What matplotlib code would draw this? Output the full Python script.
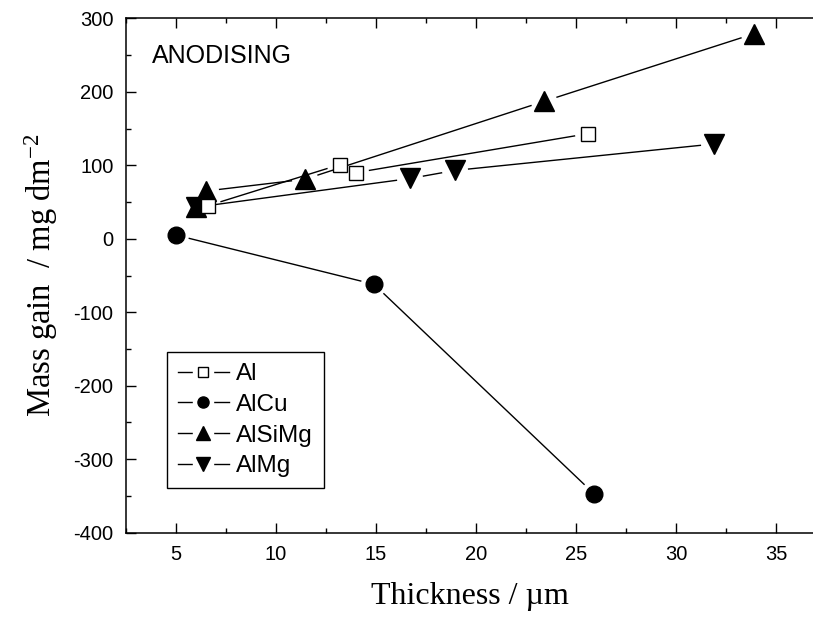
import numpy as np
import matplotlib
matplotlib.use("Agg")
import matplotlib.pyplot as plt
from matplotlib.collections import LineCollection
from matplotlib.lines import Line2D
from matplotlib.legend_handler import HandlerTuple
from matplotlib.ticker import MultipleLocator

plt.rcParams['font.family'] = ['Liberation Sans', 'DejaVu Sans']
plt.rcParams['axes.unicode_minus'] = False
plt.rcParams['mathtext.fontset'] = 'custom'
plt.rcParams['mathtext.rm'] = 'Liberation Serif'
plt.rcParams['mathtext.it'] = 'Liberation Serif:italic'
plt.rcParams['mathtext.default'] = 'regular'

# ---- data ----
al_x = [6.6, 13.2, 14.0, 25.6]
al_y = [45, 101, 90, 143]
alcu_x = [5.0, 14.9, 25.9]
alcu_y = [5, -62, -347]
alsimg_x = [6.0, 6.5, 11.45, 23.4, 33.9]
alsimg_y = [43, 65, 81, 187, 279]
almg_x = [6.0, 16.7, 18.95, 31.9]
almg_y = [43, 82, 93, 129]
labels = ['Al', 'AlCu', 'AlSiMg', 'AlMg']

x_ticks = [5, 10, 15, 20, 25, 30, 35]
y_ticks = [-400, -300, -200, -100, 0, 100, 200, 300]

W, H = 813, 618
fig = plt.figure(figsize=(W / 100, H / 100), dpi=100)
L, R, B, T = 126, 813, 532.7, 18.3
ax = fig.add_axes([L / W, (H - B) / H, (R - L) / W, (B - T) / H])
ax.set_xlim(2.5, 2.5 + (R - L) / 20.0)
ax.set_ylim(-400, 300)

ax.set_xticks(x_ticks)
ax.set_yticks(y_ticks)
ax.xaxis.set_minor_locator(MultipleLocator(2.5))
ax.yaxis.set_minor_locator(MultipleLocator(50))
ax.tick_params(which='both', direction='in', top=True, right=False,
               width=1.0, labelsize=14.5, pad=9)
ax.tick_params(which='major', length=7.2)
ax.tick_params(which='minor', length=3.6)
ax.spines['right'].set_visible(False)
for s in ('left', 'bottom', 'top'):
    ax.spines[s].set_linewidth(1.1)


def gapped(x, y, gap_px, z):
    pts = ax.transData.transform(np.column_stack([x, y]))
    inv = ax.transData.inverted()
    segs = []
    for p0, p1 in zip(pts[:-1], pts[1:]):
        d = p1 - p0
        ln = np.hypot(*d)
        if ln <= 2 * gap_px:
            continue
        u = d / ln
        segs.append(inv.transform([p0 + u * gap_px, p1 - u * gap_px]))
    ax.add_collection(LineCollection(segs, colors='k', linewidths=1.0, zorder=z))


GAP = 13
series = [
    (al_x, al_y, 's', 10, 'white', 6),
    (alcu_x, alcu_y, 'o', 12, 'black', 4),
    (alsimg_x, alsimg_y, '^', 14, 'black', 4),
    (almg_x, almg_y, 'v', 14, 'black', 4),
]
for x, y, m, ms, fc, z in series:
    gapped(x, y, GAP, 2)
    ax.plot(x, y, linestyle='none', marker=m, markersize=ms,
            markerfacecolor=fc, markeredgecolor='black', markeredgewidth=1.0,
            zorder=z)

# legend: line with gap around marker
leg_ms = {'s': 7, 'o': 8, '^': 10.5, 'v': 10.5}
handles = []
for (x, y, m, ms, fc, z) in series:
    line = Line2D([], [], color='k', lw=1.0)
    halo = Line2D([], [], linestyle='none', marker='s', markersize=15,
                  markerfacecolor='white', markeredgecolor='white')
    mk = Line2D([], [], linestyle='none', marker=m, markersize=leg_ms[m],
                markerfacecolor=fc, markeredgecolor='black', markeredgewidth=1.0)
    handles.append((line, halo, mk))
leg = ax.legend(handles, labels, handler_map={tuple: HandlerTuple(ndivide=1)},
                loc='lower left', bbox_to_anchor=((166.7 - L) / (R - L), (B - 488.3) / (B - T)),
                borderaxespad=0, fontsize=17.5, frameon=True, fancybox=False,
                edgecolor='black', handlelength=2.1, handletextpad=0.3,
                labelspacing=0.36, borderpad=0.45, framealpha=1)
leg.get_frame().set_linewidth(1.0)

ax.text((152 - L) / (R - L), 1 - (56 - T) / (B - T), 'ANODISING',
        transform=ax.transAxes, fontsize=18, ha='left', va='center')

ax.set_xlabel('Thickness / µm', family='Liberation Serif', fontsize=23)
ax.set_ylabel('Mass gain  / mg dm$^{-2}$', family='Liberation Serif', fontsize=23.5)
ax.xaxis.set_label_coords(0.5, -(582 - B) / (B - T))
ax.yaxis.set_label_coords(-(L - 60) / (R - L), 0.5)

fig.savefig('out.png', dpi=100)
